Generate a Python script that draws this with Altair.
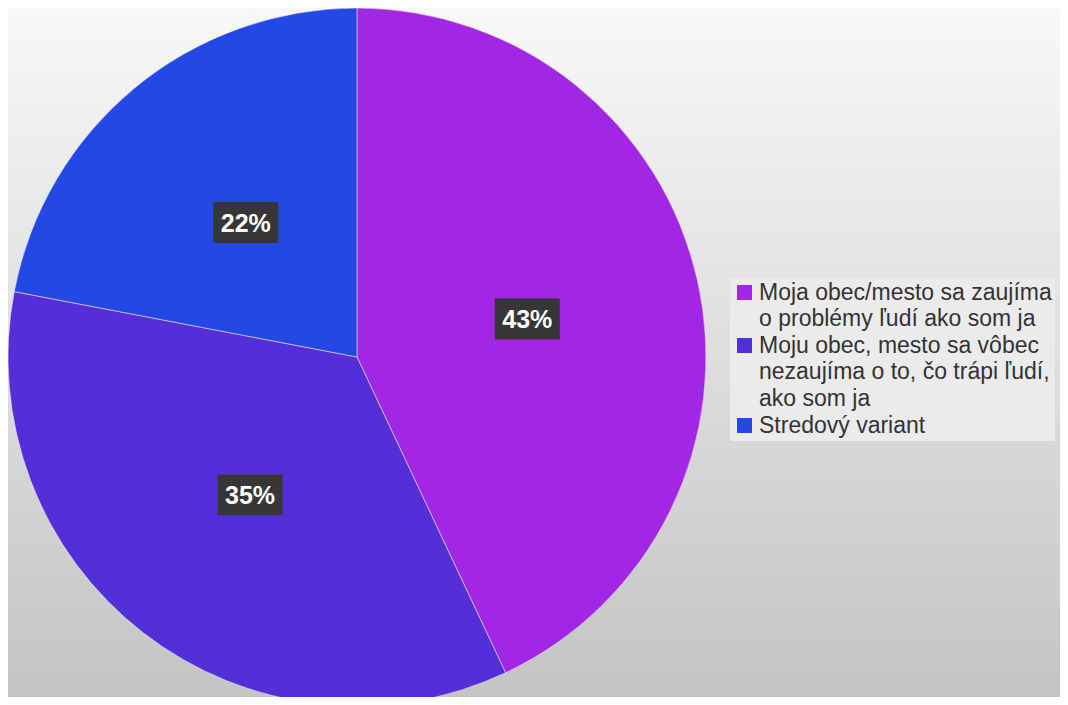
import altair as alt
import pandas as pd

categories = [
    "Moja obec/mesto sa zaujíma\no problémy ľudí ako som ja",
    "Moju obec, mesto sa vôbec\nnezaujíma o to, čo trápi ľudí,\nako som ja",
    "Stredový variant",
]
values = [43, 35, 22]
labels = ["43%", "35%", "22%"]
colors = ["#A127E5", "#542FD8", "#2448E6"]

df = pd.DataFrame({"cat": categories, "value": values, "label": labels, "ord": [0, 1, 2]})

W, H = 1052, 689
CX, CY, R = 349, 349, 349

bg = alt.Chart(pd.DataFrame({"k": [0]})).mark_rect(
    color=alt.LinearGradient(
        gradient="linear",
        stops=[alt.GradientStop(color="#f8f8f8", offset=0),
               alt.GradientStop(color="#c4c4c4", offset=1)],
        x1=0, x2=0, y1=0, y2=1,
    )
).encode(x=alt.value(0), x2=alt.value(W), y=alt.value(0), y2=alt.value(H))

base = alt.Chart(df)

pie = base.mark_arc(radius=R, stroke="#ffffff", strokeWidth=0.8, strokeOpacity=0.6).encode(
    theta=alt.Theta("value:Q", stack=True),
    order=alt.Order("ord:Q"),
    color=alt.Color(
        "cat:N",
        scale=alt.Scale(domain=categories, range=colors),
        sort=categories,
        legend=alt.Legend(
            title=None,
            orient="none",
            legendX=722,
            legendY=270,
            padding=3,
            fillColor="#ebebeb",
            symbolType="square",
            symbolSize=225,
            symbolStrokeWidth=0,
            symbolOpacity=1,
            labelFont="Liberation Sans",
            labelFontSize=23,
            labelColor="#333333",
            labelLimit=400,
            labelOffset=3,
            rowPadding=3,
            labelExpr="split(datum.label, '\\n')",
        ),
    ),
    x=alt.value(CX),
    y=alt.value(CY),
)

pos = base.transform_window(
    cum="sum(value)", sort=[alt.SortField("ord")]
).transform_joinaggregate(total="sum(value)").transform_calculate(
    mid="(datum.cum - datum.value / 2) / datum.total * 2 * PI"
).transform_calculate(
    lx="sin(datum.mid) * 0.5", ly="cos(datum.mid) * 0.5"
)

xs = alt.X("lx:Q", scale=alt.Scale(domain=[-1, 1], range=[CX - R, CX + R]), axis=None)
ys = alt.Y("ly:Q", scale=alt.Scale(domain=[-1, 1], range=[CY + R, CY - R]), axis=None)

boxes = pos.mark_point(
    shape="M-1,-0.63L1,-0.63L1,0.63L-1,0.63Z",
    size=4225,
    filled=True,
    color="#363636",
    opacity=1,
    strokeWidth=0,
).encode(x=xs, y=ys)

texts = pos.mark_text(
    font="Liberation Sans", fontSize=25, fontWeight="bold", color="#ffffff",
    align="center", baseline="middle", dy=1,
).encode(x=xs, y=ys, text="label:N")

chart = alt.layer(bg, pie, boxes, texts).properties(
    width=W, height=H, padding=0, autosize=alt.AutoSizeParams(type="none")
).configure_view(strokeWidth=0).configure(
    style={"guide-label": {"lineHeight": 26.5}}
)

chart.save("out.html", embed_options={"renderer": "svg", "actions": False})
